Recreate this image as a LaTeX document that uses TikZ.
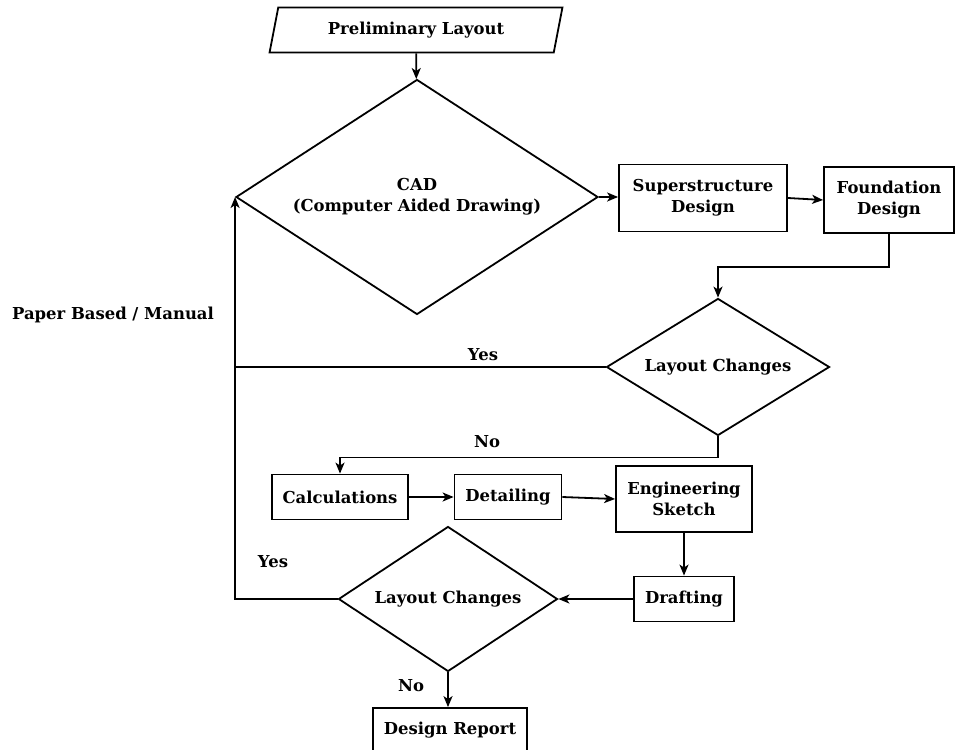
\documentclass[tikz,border=0pt]{standalone}
\usepackage{fontspec}
\setmainfont{DejaVu Serif}
\usetikzlibrary{positioning}
\usetikzlibrary{arrows.meta}
\usetikzlibrary{shapes.geometric}
\tikzset{>={Stealth[length=11bp, width=9bp, inset=3bp]}}
\tikzset{txt/.style={font=\fontsize{16.5}{21}\selectfont\bfseries, align=center}}
\tikzset{blk/.style={txt, draw, rectangle, line width=1.8bp, inner sep=0pt}}
\tikzset{dec/.style={txt, draw, diamond, line width=1.8bp, inner sep=0pt}}
\tikzset{inout/.style={txt, draw, trapezium, trapezium left angle=71, trapezium right angle=109, trapezium stretches=true, line width=1.8bp, inner sep=0pt}}
\tikzset{wire/.style={line width=1.8bp}}

\begin{document}
\begin{tikzpicture}[x=1bp, y=-1bp]
\useasboundingbox (0,0) rectangle (955,750);

\node[inout, minimum width=293bp, minimum height=45bp] (prelim) at (416,30) {Preliminary Layout};
\node[dec, shape aspect=1.54, minimum width=362bp, minimum height=235bp] (cad) at (417,197) {CAD\\(Computer Aided Drawing)};
\node[blk, minimum width=168bp, minimum height=67bp] (super) at (703,198) {Superstructure\\Design};
\node[blk, minimum width=130bp, minimum height=66bp] (found) at (889,200) {Foundation\\Design};
\node[dec, shape aspect=1.63, minimum width=223bp, minimum height=137bp] (lc1) at (718,367) {Layout Changes};

\node[blk, minimum width=136bp, minimum height=45bp] (calc) at (340,497) {Calculations};
\node[blk, minimum width=107bp, minimum height=45bp] (detail) at (508,497) {Detailing};
\node[blk, minimum width=136bp, minimum height=66bp] (eng) at (684,499) {Engineering\\Sketch};
\node[blk, minimum width=100bp, minimum height=45bp] (draft) at (684,599) {Drafting};
\node[dec, shape aspect=1.51, minimum width=219bp, minimum height=145bp] (lc2) at (448,599) {Layout Changes};
\node[blk, minimum width=154bp, minimum height=44bp] (report) at (450,730) {Design Report};

\node[txt] (manual) at (113,315) {Paper Based / Manual};
\node[txt] (yes1) at (483,355) {Yes};
\node[txt] (no1) at (487,442) {No};
\node[txt] (yes2) at (273,562) {Yes};
\node[txt] (no2) at (411,686) {No};

\coordinate (join) at (cad.west |- lc1.west);

\draw[wire,->] (prelim) -- (cad);
\draw[wire,->] (cad.east) -- (super.west |- cad.east);
\draw[wire,->] (super.east) -- (found.west);
\draw[wire,->] (found.south) -- ++(0,33) -| (lc1.north);
\draw[wire,->] (lc1.west) -| (cad.west);
\draw[wire,->] (lc1.south) -- ++(0,21) -| (calc.north);
\draw[wire,->] (calc) -- (detail);
\draw[wire,->] (detail.east) -- (eng.west);
\draw[wire,->] (eng) -- (draft);
\draw[wire,->] (draft.west) -- (lc2.east);
\draw[wire] (lc2.west) -| (join);
\draw[wire,->] (lc2.south) -- (lc2.south |- report.north);
\end{tikzpicture}
\end{document}
